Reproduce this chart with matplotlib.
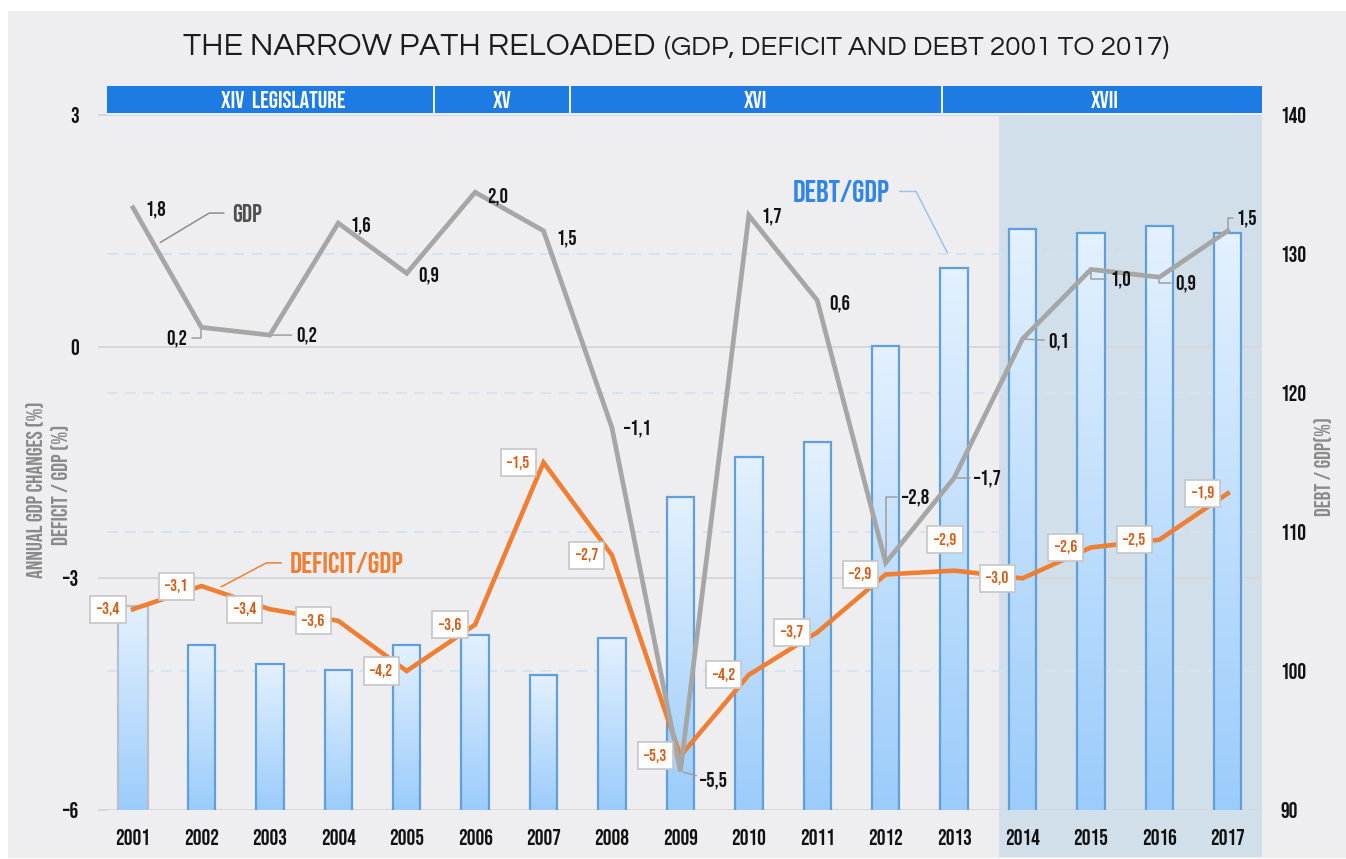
import numpy as np
import matplotlib
matplotlib.use('Agg')
import matplotlib.pyplot as plt
import matplotlib.transforms as mtransforms
from matplotlib import font_manager as fm
from matplotlib.textpath import TextPath
from matplotlib.patches import Rectangle
from matplotlib.colors import LinearSegmentedColormap

# ---- data ----------------------------------------------------------------
years = [str(y) for y in range(2001, 2018)]
gdp = [1.8, 0.25, 0.15, 1.6, 0.95, 2.0, 1.5, -1.05, -5.5, 1.7, 0.6, -2.8, -1.7, 0.1, 1.0, 0.9, 1.5]
gdp_labels = ['1,8', '0,2', '0,2', '1,6', '0,9', '2,0', '1,5', '–1,1', '–5,5',
              '1,7', '0,6', '–2,8', '–1,7', '0,1', '1,0', '0,9', '1,5']
deficit = [-3.4, -3.1, -3.4, -3.55, -4.2, -3.6, -1.5, -2.7, -5.3, -4.25, -3.7,
           -2.95, -2.9, -3.0, -2.6, -2.5, -1.9]
deficit_labels = ['–3,4', '–3,1', '–3,4', '–3,6', '–4,2', '–3,6', '–1,5', '–2,7', '–5,3',
                  '–4,2', '–3,7', '–2,9', '–2,9', '–3,0', '–2,6', '–2,5', '–1,9']
debt = [104.7, 101.9, 100.5, 100.1, 101.9, 102.6, 99.7, 102.4, 112.5, 115.4,
        116.5, 123.4, 129.0, 131.8, 131.5, 132.0, 131.5]

legislatures = ['XIV  LEGISLATURE', 'XV', 'XVI', 'XVII']
leg_edges = [-0.38, 4.40, 6.38, 11.83, 16.5]
leg_text_x = [2.2, 5.39, 9.1, 14.2]
shade_from = 12.65          # XVII legislature highlight

left_ticks = [-6, -3, 0, 3]
left_ticklabels = ['–6', '–3', '0', '3']
right_ticks = [90, 100, 110, 120, 130, 140]

# label offsets (pixels) and leader style for GDP labels
gdp_offsets = [(12, -2, 'left', None), (-14, -11, 'right', 'angle,angleA=0,angleB=90'),
               (26, 0, 'left', 'arc3'), (12, -2, 'left', None), (12, -2, 'left', None),
               (12, -4, 'left', None), (13, -7, 'left', None), (12, 0, 'left', None),
               (20, -9, 'left', 'arc3'), (13, -1, 'left', None), (12, -3, 'left', None),
               (16, 66, 'left', 'angle,angleA=0,angleB=90'), (20, 0, 'left', 'arc3'),
               (26, -2, 'left', 'arc3'), (19, -10, 'left', 'angle,angleA=0,angleB=90'),
               (16, -6, 'left', 'angle,angleA=0,angleB=90'),
               (9, 13, 'left', 'angle,angleA=0,angleB=90')]

# condensed display face for labels, geometric face for the title
FP = fm.FontProperties(family=['Bebas Neue', 'Oswald', 'IBM Plex Sans Condensed', 'DejaVu Sans'],
                       weight='bold')
TF = fm.FontProperties(family=['Questrial', 'Didact Gothic', 'Lato', 'DejaVu Sans'])
plt.rcParams['font.family'] = ['DejaVu Sans']

# scale so that a cap/digit height at "size 14" is ~15 px, as in the reference
cap_pt = TextPath((0, 0), '2001', size=14, prop=FP).get_extents().height
K = float(np.clip(15.0 / (cap_pt * 100 / 72), 0.7, 1.4))


def cfont(size):
    return dict(fontproperties=FP, fontsize=size * K)


BG = '#eeeef0'
fig = plt.figure(figsize=(13.46, 8.59), dpi=100, facecolor='white')
renderer = fig.canvas.get_renderer()
fig.add_artist(Rectangle((8 / 1346, 1 / 859), 1 - 8 / 1346, 1 - 12 / 859,
                         transform=fig.transFigure, facecolor=BG, edgecolor='none', zorder=-10))

ax = fig.add_axes([107 / 1346, 1 - 810 / 859, (1262 - 107) / 1346, (810 - 115) / 859])
ax2 = ax.twinx()
ax.set_zorder(2)
ax2.set_zorder(1)
ax.patch.set_visible(False)
ax2.patch.set_visible(False)
for a in (ax, ax2):
    for s in a.spines.values():
        s.set_visible(False)

x = np.arange(len(years))

# ---- background: shading + gridlines (on the lower axes) -----------------
ax2.axvspan(shade_from, leg_edges[-1], ymin=-0.068, ymax=1, color='#d1dfeb',
            zorder=0, clip_on=False, lw=0)
trans_left = mtransforms.blended_transform_factory(ax2.transAxes, ax.transData)
for v in left_ticks:
    ax2.plot([0, 1], [v, v], transform=trans_left, color='#d7d7d9', lw=1.4, zorder=0.5)
for v in right_ticks[1:-1]:
    ax2.axhline(v, color='#d3e4f4', lw=1.3, ls=(0, (6, 4)), zorder=0.5)

# ---- debt bars with vertical gradient --------------------------------------
widths = [0.44] + [0.40] * (len(years) - 1)
edges = ['#b7c0ca'] + ['#5f9fdc'] * (len(years) - 1)
bars = ax2.bar(x, debt, width=widths, facecolor='none', edgecolor=edges, linewidth=1.6, zorder=3)
cmap = LinearSegmentedColormap.from_list('debt', ['#9bccfb', '#e4f1fe'])
grad = np.linspace(0, 1, 256).reshape(-1, 1)
for xi, d, w, b in zip(x, debt, widths, bars):
    im = ax2.imshow(grad, extent=[xi - w / 2, xi + w / 2, 90, d], origin='lower',
                    cmap=cmap, aspect='auto', zorder=2)
    im.set_clip_path(b)
ax2.set_ylim(90, 140)
ax2.set_xlim(leg_edges[0], leg_edges[-1])

# ---- lines -----------------------------------------------------------------
ax.plot(x, deficit, color='#ef7f33', lw=3.3, zorder=3, solid_joinstyle='miter')
ax.plot(x, gdp, color='#a6a6a6', lw=3.4, zorder=4, solid_joinstyle='miter')
ax.set_ylim(-6, 3)
ax.set_xlim(leg_edges[0], leg_edges[-1])

# GDP labels
for xi, v, lab, (dx, dy, ha, con) in zip(x, gdp, gdp_labels, gdp_offsets):
    kw = {}
    if con is not None:
        kw['arrowprops'] = dict(arrowstyle='-', color='#9e9e9e', lw=1.1,
                                shrinkA=1, shrinkB=2, connectionstyle=con)
    ax.annotate(lab, (xi, v), xytext=(dx, dy), textcoords='offset pixels',
                ha=ha, va='center', color='#111111', zorder=6, **cfont(14), **kw)

# deficit labels in boxes
for i, (xi, v, lab) in enumerate(zip(x, deficit, deficit_labels)):
    if years[i] == '2013':
        off, ha, va = (-9, 24), 'center', 'bottom'
    else:
        off, ha, va = (-14, 0), 'right', 'center'
    ax.annotate(lab, (xi, v), xytext=off, textcoords='offset pixels', ha=ha, va=va,
                color='#d2601c', zorder=7, **cfont(11.5),
                bbox=dict(boxstyle='square,pad=0.38', fc='white', ec='#c6c6c6', lw=1.2))

# series call-outs
ax.annotate('GDP', (0.4, 1.35), xytext=(1.45, 1.73), ha='left', va='center',
            color='#4f4f4f', zorder=6, **cfont(17),
            arrowprops=dict(arrowstyle='-', color='#8c8c8c', lw=1.1, shrinkA=4, shrinkB=0,
                            connectionstyle='angle,angleA=0,angleB=31'))
ax.annotate('DEFICIT/GDP', (1.29, -3.11), xytext=(2.29, -2.80), ha='left', va='center',
            color='#ef7f33', zorder=6, **cfont(20),
            arrowprops=dict(arrowstyle='-', color='#ef7f33', lw=1.1, shrinkA=4, shrinkB=0,
                            connectionstyle='angle,angleA=0,angleB=28'))
ax2.annotate('DEBT/GDP', (11.9, 130.1), xytext=(11.06, 134.5), ha='right', va='center',
             color='#2f86e6', zorder=6, **cfont(21),
             arrowprops=dict(arrowstyle='-', color='#9cc3ea', lw=1.1, shrinkA=5, shrinkB=0,
                             connectionstyle='angle,angleA=0,angleB=117'))

# ---- axes / ticks ------------------------------------------------------------
ax.set_xticks(x)
ax.set_xticklabels(years)
ax.tick_params(axis='x', length=0, pad=14, labelcolor='#111111')
ax.set_yticks(left_ticks)
ax.set_yticklabels(left_ticklabels)
ax.tick_params(axis='y', length=6.5, width=1.4, color='#d7d7d9', pad=14, labelcolor='#111111')
ax2.set_yticks(right_ticks)
ax2.tick_params(axis='y', length=0, pad=13.5, labelcolor='#111111')
for lab in ax.get_xticklabels():
    lab.set_fontproperties(FP)
    lab.set_fontsize(14.5 * K)
for lab in ax.get_yticklabels() + ax2.get_yticklabels():
    lab.set_fontproperties(FP)
    lab.set_fontsize(14.5 * K)

fig.text(35 / 1346, 1 - 490 / 859, 'ANNUAL GDP CHANGES (%)', rotation=90, ha='center',
         va='center', color='#8a8a8a', **cfont(15))
fig.text(60 / 1346, 1 - 485 / 859, 'DEFICIT / GDP (%)', rotation=90, ha='center',
         va='center', color='#8a8a8a', **cfont(15))
fig.text(1323 / 1346, 1 - 467 / 859, 'DEBT / GDP(%)', rotation=90, ha='center',
         va='center', color='#8a8a8a', **cfont(14.5))

# ---- legislature band ----------------------------------------------------------
trans_band = mtransforms.blended_transform_factory(ax.transData, ax.transAxes)
for i, (name, tx) in enumerate(zip(legislatures, leg_text_x)):
    a0, a1 = leg_edges[i], leg_edges[i + 1]
    if i > 0:
        a0 += 0.015
    if i < len(legislatures) - 1:
        a1 -= 0.015
    ax.add_patch(Rectangle((a0, 1.003), a1 - a0, 0.039, transform=trans_band,
                           facecolor='#1e7be3', edgecolor='none', clip_on=False, zorder=5))
    ax.text(tx, 1.0225, name, transform=trans_band, ha='center', va='center',
            color='white', zorder=6, **cfont(16))

# ---- title (sizes fitted to the reference widths) ------------------------------
t1 = fig.text(183 / 1346, 1 - 55 / 859, 'THE NARROW PATH RELOADED', fontproperties=TF,
              fontsize=25, color='#1c1c1c', va='baseline', ha='left')
t1.set_fontsize(25 * 472 / t1.get_window_extent(renderer).width)
bb = t1.get_window_extent(renderer)
t2 = fig.text((bb.x1 + 9) / 1346, 1 - 55 / 859, '(GDP, DEFICIT AND DEBT 2001 TO 2017)',
              fontproperties=TF, fontsize=19, color='#1c1c1c', va='baseline', ha='left')
t2.set_fontsize(19 * 504 / t2.get_window_extent(renderer).width)

fig.savefig('out.png', dpi=100, facecolor=fig.get_facecolor())
